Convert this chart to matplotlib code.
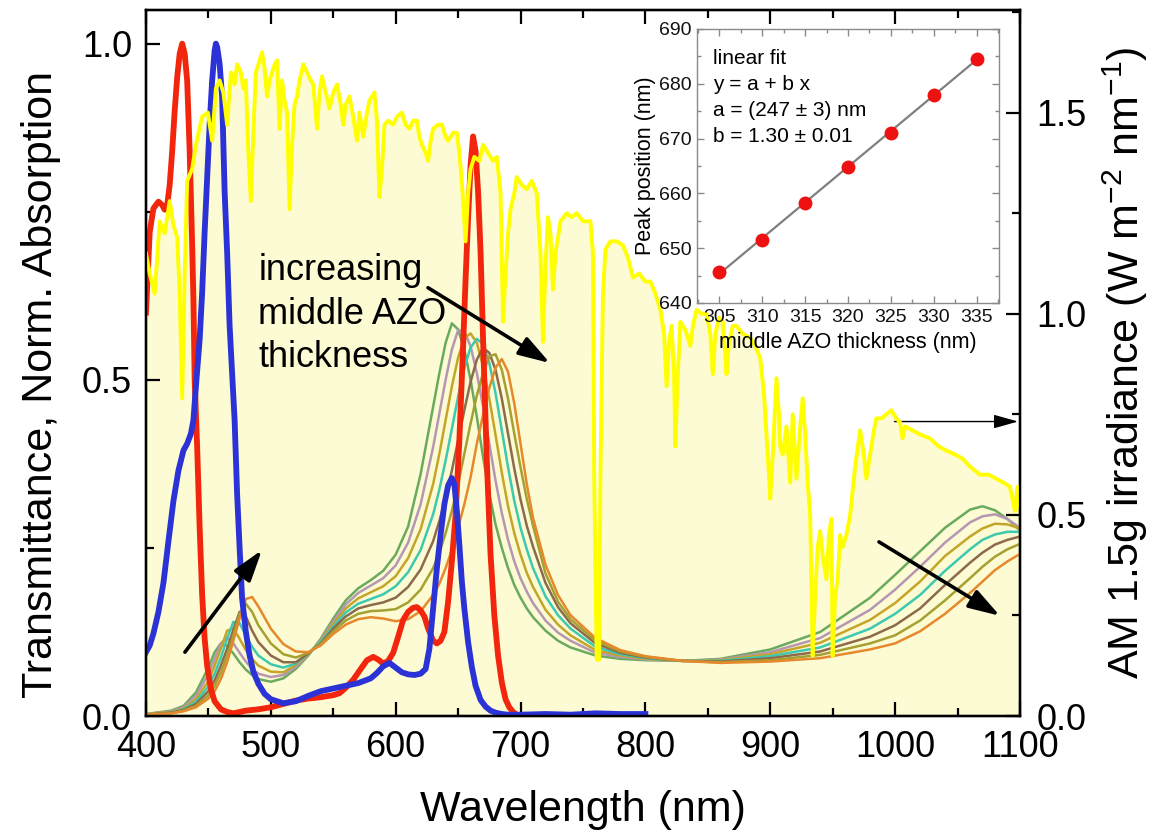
import numpy as np
import matplotlib
matplotlib.use("Agg")
import matplotlib.pyplot as plt
from matplotlib.ticker import MultipleLocator

plt.rcParams['font.family'] = ['Liberation Sans', 'DejaVu Sans']
plt.rcParams['mathtext.fontset'] = 'custom'
plt.rcParams['mathtext.rm'] = 'Liberation Sans'
plt.rcParams['mathtext.it'] = 'Liberation Sans:italic'
plt.rcParams['mathtext.bf'] = 'Liberation Sans:bold'

# ---------------- AM1.5G irradiance (right axis) ----------------
sun_wl = [400, 403, 407, 411, 415, 419, 422, 425, 427, 429, 431, 433, 437, 440, 445, 449.6, 453, 456,
          459, 462, 465, 468, 471, 473, 476, 478, 480, 482, 484, 486, 488, 491, 493, 495, 497, 499,
          501, 503, 505, 507, 509, 511, 513, 515, 517, 519, 521, 523, 526, 529, 532, 534, 537, 539,
          541, 544, 547, 550, 553, 556, 558, 560, 563, 566, 569, 571, 574, 577, 579, 583, 585, 587,
          589, 591, 594, 598, 601, 605, 608, 611, 614, 617, 619, 621, 624, 626, 628, 630, 634, 637,
          640, 642, 646, 649, 651, 653, 656, 658, 660, 663, 667, 670, 674, 678, 681, 684, 686, 688,
          690, 692, 695, 697, 701, 705, 709, 713, 716, 718, 720, 722, 724, 726, 728, 732, 737, 741,
          745, 750, 756, 758, 759, 761, 763, 764, 766, 768, 772, 777, 782, 786, 790, 795, 800, 804,
          808, 812, 815, 817, 819, 821, 823, 824, 826, 828, 832, 836, 838, 841, 845, 849, 852, 854,
          856, 859, 862, 864, 865, 867, 870, 873, 878, 884, 888, 892, 895, 897, 899, 900, 902, 905,
          907, 908, 910, 913, 916, 918, 921, 924, 926, 928, 930, 932, 934, 936, 938, 940, 942, 945,
          947, 949, 950, 952, 954, 956, 958, 961, 964, 968, 972, 975, 977, 980, 983, 985, 989, 993,
          997, 1001, 1004, 1006, 1008, 1014, 1020, 1028, 1035, 1041, 1048, 1054, 1060, 1068, 1075, 1081,
          1087, 1092, 1094, 1096, 1098, 1100]
sun_irr = [1.15, 1.10, 1.05, 1.23, 1.20, 1.28, 1.22, 1.19, 1.05, 0.79, 1.10, 1.33, 1.36, 1.42, 1.49, 1.50, 1.43, 1.56,
           1.58, 1.55, 1.47, 1.60, 1.57, 1.62, 1.60, 1.56, 1.58, 1.40, 1.28, 1.45, 1.60, 1.63, 1.65, 1.61, 1.54, 1.58,
           1.60, 1.62, 1.63, 1.46, 1.58, 1.53, 1.50, 1.26, 1.42, 1.52, 1.54, 1.58, 1.62, 1.60, 1.58, 1.57, 1.46, 1.55,
           1.59, 1.55, 1.51, 1.55, 1.57, 1.52, 1.47, 1.52, 1.54, 1.49, 1.43, 1.50, 1.44, 1.50, 1.53, 1.55, 1.48, 1.29,
           1.36, 1.47, 1.48, 1.47, 1.49, 1.50, 1.47, 1.46, 1.48, 1.48, 1.44, 1.42, 1.40, 1.38, 1.43, 1.46, 1.47, 1.47,
           1.44, 1.43, 1.45, 1.45, 1.40, 1.33, 1.18, 1.30, 1.36, 1.39, 1.38, 1.42, 1.40, 1.38, 1.39, 1.30, 0.98, 1.10,
           1.20, 1.26, 1.30, 1.34, 1.32, 1.31, 1.33, 1.30, 1.15, 0.93, 1.12, 1.24, 1.20, 1.06, 1.15, 1.23, 1.25, 1.24,
           1.25, 1.23, 1.23, 1.15, 0.60, 0.14, 0.14, 0.60, 1.05, 1.16, 1.18, 1.18, 1.17, 1.14, 1.09, 1.10, 1.08, 1.08,
           1.05, 1.01, 0.95, 0.82, 0.93, 0.97, 0.85, 0.67, 0.85, 0.98, 0.96, 0.92, 0.97, 1.01, 1.00, 1.00, 0.95, 0.85,
           0.95, 0.99, 0.98, 0.90, 0.85, 0.93, 0.97, 0.97, 0.95, 0.94, 0.92, 0.89, 0.80, 0.70, 0.60, 0.54, 0.65, 0.84,
           0.75, 0.67, 0.65, 0.72, 0.58, 0.75, 0.59, 0.72, 0.79, 0.70, 0.58, 0.50, 0.15, 0.30, 0.42, 0.46, 0.40, 0.34,
           0.45, 0.49, 0.15, 0.30, 0.34, 0.45, 0.42, 0.45, 0.50, 0.62, 0.71, 0.65, 0.59, 0.65, 0.71, 0.74, 0.74, 0.75,
           0.76, 0.74, 0.73, 0.69, 0.72, 0.71, 0.70, 0.69, 0.67, 0.66, 0.65, 0.64, 0.62, 0.60, 0.60, 0.59,
           0.58, 0.57, 0.54, 0.51, 0.57, 0.52]

# ---------------- red absorption ----------------
red_wl = [400, 403, 406, 410, 413, 415, 417, 419, 421, 423, 425, 427, 429, 431, 433, 435, 437, 438, 439, 441,
          443, 445, 447, 449, 452, 455, 460, 465, 470, 480, 490, 500, 510, 520, 530, 540, 550, 555, 560, 566,
          572, 577, 582, 586, 590, 594, 598, 602, 606, 610, 614, 617, 620, 623, 626, 630, 633, 636, 639, 642,
          645, 648, 651, 654, 656, 658, 660, 662, 664, 666, 668, 670, 673, 676, 679, 682, 685, 688, 691, 694,
          697, 700]
red_val = [0.60, 0.72, 0.755, 0.765, 0.76, 0.753, 0.76, 0.79, 0.84, 0.90, 0.95, 0.985, 1.0, 0.985, 0.945, 0.84, 0.70, 0.62, 0.50, 0.40,
           0.28, 0.18, 0.115, 0.075, 0.04, 0.022, 0.01, 0.006, 0.004, 0.008, 0.01, 0.013, 0.018, 0.023, 0.026, 0.028, 0.031, 0.034, 0.042, 0.054,
           0.07, 0.083, 0.088, 0.084, 0.078, 0.082, 0.094, 0.118, 0.143, 0.155, 0.161, 0.162, 0.157, 0.148, 0.13, 0.112, 0.108, 0.112, 0.125, 0.17,
           0.23, 0.30, 0.41, 0.55, 0.65, 0.74, 0.82, 0.862, 0.84, 0.78, 0.69, 0.56, 0.38, 0.24, 0.15, 0.09, 0.05, 0.025, 0.013, 0.006,
           0.002, 0.001]

# ---------------- blue absorption ----------------
blue_wl = [400, 403, 406, 410, 414, 418, 422, 426, 430, 433, 436, 438, 440, 443, 445, 447, 449, 451, 453, 455,
           456, 457, 459, 461, 463, 465, 467, 469, 471, 473, 475, 477, 480, 483, 486, 490, 495, 500, 510, 520,
           530, 540, 550, 560, 570, 580, 585, 590, 595, 600, 605, 610, 615, 620, 624, 627, 630, 633, 636, 639,
           642, 645, 647, 649, 651, 653, 655, 658, 661, 664, 668, 672, 676, 680, 685, 690, 700, 720, 740, 760,
           780, 800]
blue_val = [0.095, 0.105, 0.123, 0.155, 0.198, 0.26, 0.32, 0.365, 0.395, 0.405, 0.42, 0.44, 0.49, 0.56, 0.63, 0.72, 0.80, 0.88, 0.945, 0.99,
            1.0, 0.995, 0.97, 0.92, 0.78, 0.69, 0.58, 0.51, 0.44, 0.33, 0.25, 0.175, 0.125, 0.09, 0.066, 0.048, 0.033, 0.025, 0.019, 0.022,
            0.03, 0.037, 0.041, 0.045, 0.049, 0.056, 0.064, 0.074, 0.079, 0.072, 0.065, 0.062, 0.061, 0.063, 0.07, 0.10, 0.16, 0.22, 0.27, 0.315,
            0.343, 0.354, 0.345, 0.305, 0.255, 0.20, 0.16, 0.11, 0.073, 0.045, 0.024, 0.014, 0.008, 0.005, 0.003, 0.002, 0.002, 0.003, 0.002, 0.004,
            0.003, 0.003]

# ---------------- transmittance for middle AZO thickness 305...335 nm ----------------
t_wl = [400, 420, 430, 440, 450, 455, 460, 465, 470, 475, 480, 485, 490, 500, 510, 520, 530, 540, 550, 560,
        570, 580, 590, 600, 610, 620, 630, 635, 640, 645, 650, 655, 660, 665, 670, 675, 680, 685, 690, 695,
        700, 705, 710, 720, 730, 740, 760, 780, 800, 830, 860, 900, 940, 980, 1000, 1020, 1040, 1060, 1070, 1080,
        1090, 1100]
t_305 = [0.003, 0.008, 0.015, 0.035, 0.072, 0.095, 0.108, 0.104, 0.093, 0.080, 0.069, 0.061, 0.055, 0.051, 0.056, 0.070, 0.090, 0.115, 0.145, 0.172,
         0.190, 0.202, 0.216, 0.240, 0.282, 0.360, 0.460, 0.510, 0.555, 0.584, 0.575, 0.545, 0.500, 0.445, 0.385, 0.330, 0.285, 0.250, 0.220, 0.195,
         0.176, 0.160, 0.147, 0.127, 0.112, 0.102, 0.090, 0.085, 0.083, 0.082, 0.085, 0.099, 0.125, 0.176, 0.210, 0.245, 0.280, 0.307, 0.312, 0.306,
         0.293, 0.276]
t_310 = [0.003, 0.007, 0.013, 0.030, 0.062, 0.085, 0.108, 0.117, 0.108, 0.094, 0.081, 0.070, 0.063, 0.058, 0.061, 0.073, 0.091, 0.113, 0.141, 0.166,
         0.183, 0.194, 0.205, 0.224, 0.258, 0.315, 0.400, 0.450, 0.500, 0.545, 0.574, 0.572, 0.550, 0.510, 0.460, 0.405, 0.350, 0.302, 0.262, 0.230,
         0.205, 0.185, 0.168, 0.142, 0.124, 0.112, 0.094, 0.088, 0.084, 0.082, 0.084, 0.095, 0.116, 0.158, 0.188, 0.222, 0.258, 0.288, 0.297, 0.300,
         0.293, 0.280]
t_315 = [0.003, 0.006, 0.011, 0.025, 0.052, 0.075, 0.100, 0.127, 0.130, 0.115, 0.098, 0.085, 0.075, 0.066, 0.065, 0.076, 0.092, 0.111, 0.137, 0.160,
         0.175, 0.184, 0.193, 0.208, 0.235, 0.278, 0.345, 0.390, 0.440, 0.490, 0.533, 0.562, 0.569, 0.555, 0.520, 0.472, 0.418, 0.362, 0.312, 0.272,
         0.240, 0.213, 0.192, 0.158, 0.136, 0.120, 0.098, 0.090, 0.085, 0.082, 0.083, 0.092, 0.109, 0.143, 0.168, 0.200, 0.238, 0.267, 0.279, 0.286,
         0.285, 0.279]
t_320 = [0.002, 0.005, 0.010, 0.021, 0.044, 0.063, 0.087, 0.115, 0.140, 0.138, 0.120, 0.103, 0.090, 0.077, 0.072, 0.078, 0.093, 0.110, 0.133, 0.154,
         0.167, 0.174, 0.181, 0.193, 0.214, 0.247, 0.300, 0.337, 0.380, 0.427, 0.475, 0.518, 0.548, 0.561, 0.553, 0.525, 0.480, 0.425, 0.370, 0.320,
         0.280, 0.248, 0.220, 0.178, 0.150, 0.130, 0.103, 0.092, 0.086, 0.082, 0.082, 0.089, 0.102, 0.130, 0.152, 0.180, 0.216, 0.248, 0.262, 0.270,
         0.274, 0.274]
t_325 = [0.002, 0.005, 0.009, 0.018, 0.037, 0.053, 0.075, 0.100, 0.128, 0.155, 0.148, 0.127, 0.110, 0.090, 0.080, 0.080, 0.093, 0.108, 0.130, 0.148,
         0.160, 0.165, 0.169, 0.176, 0.192, 0.218, 0.260, 0.290, 0.325, 0.365, 0.410, 0.455, 0.497, 0.530, 0.548, 0.540, 0.515, 0.472, 0.420, 0.368,
         0.322, 0.283, 0.252, 0.198, 0.162, 0.138, 0.108, 0.094, 0.087, 0.082, 0.081, 0.086, 0.096, 0.118, 0.135, 0.160, 0.195, 0.228, 0.243, 0.255,
         0.262, 0.267]
t_330 = [0.002, 0.004, 0.008, 0.015, 0.031, 0.045, 0.065, 0.090, 0.120, 0.152, 0.167, 0.155, 0.135, 0.108, 0.092, 0.087, 0.094, 0.107, 0.126, 0.142,
         0.152, 0.156, 0.157, 0.159, 0.169, 0.188, 0.220, 0.243, 0.272, 0.305, 0.345, 0.390, 0.435, 0.477, 0.510, 0.535, 0.538, 0.515, 0.472, 0.420,
         0.370, 0.323, 0.283, 0.212, 0.170, 0.144, 0.112, 0.096, 0.088, 0.082, 0.080, 0.083, 0.091, 0.108, 0.120, 0.142, 0.172, 0.205, 0.222, 0.237,
         0.248, 0.256]
t_335 = [0.002, 0.004, 0.007, 0.013, 0.026, 0.037, 0.055, 0.080, 0.112, 0.145, 0.174, 0.177, 0.163, 0.130, 0.107, 0.096, 0.095, 0.105, 0.122, 0.136,
         0.144, 0.147, 0.145, 0.141, 0.144, 0.156, 0.180, 0.197, 0.220, 0.247, 0.280, 0.315, 0.355, 0.405, 0.448, 0.488, 0.518, 0.531, 0.512, 0.465,
         0.405, 0.345, 0.295, 0.225, 0.180, 0.150, 0.116, 0.098, 0.089, 0.082, 0.079, 0.081, 0.086, 0.099, 0.108, 0.126, 0.152, 0.183, 0.200, 0.217,
         0.230, 0.241]
t_series = [t_305, t_310, t_315, t_320, t_325, t_330, t_335]
t_colors = ['#6aaa5e', '#b596b3', '#c4a52a', '#3cc9b0', '#8c6a4c', '#a5a032', '#e5892c']

# ---------------- inset: peak position vs thickness ----------------
thick = [305, 310, 315, 320, 325, 330, 335]
peak_pos = [645.7, 651.5, 658.3, 664.8, 671.1, 677.9, 684.6]

# ---------------- figure ----------------
fig = plt.figure(figsize=(11.53, 8.36), dpi=100)
rect = [0.1266, 0.1435, 0.758, 0.8445]
ax = fig.add_axes(rect)
ax_fill = ax.twinx()
ax_line = ax.twinx()
ax_fill.set_zorder(0)
ax.set_zorder(1)
ax_line.set_zorder(2)
ax_fill.patch.set_visible(True)
ax_fill.patch.set_facecolor('white')
ax.patch.set_visible(False)
ax_line.patch.set_visible(False)

for a in (ax_fill, ax_line):
    a.set_ylim(0, 1.755)
ax.set_xlim(400, 1100)
ax.set_ylim(0, 1.05)

# fill under irradiance, line on top
ax_fill.fill_between(sun_wl, 0, sun_irr, color='#fdfbd3', lw=0)
ax_line.plot(sun_wl, sun_irr, color='#ffff00', lw=2.8, solid_joinstyle='round')

# transmittance curves
for vals, col in zip(t_series, t_colors):
    ax.plot(t_wl, vals, color=col, lw=1.8)
ax.plot(red_wl, red_val, color='#f2260c', lw=4.2, solid_joinstyle='round')
ax.plot(blue_wl, blue_val, color='#2b32d6', lw=4.2, solid_joinstyle='round')

# axes styling
for a in (ax, ax_fill, ax_line):
    for s in a.spines.values():
        s.set_linewidth(1.6)
        s.set_color('black')
ax_fill.tick_params(left=False, right=False, top=False, bottom=False,
                    labelleft=False, labelright=False, labelbottom=False)
ax_fill.set_yticks([])

ax.xaxis.set_major_locator(MultipleLocator(100))
ax.xaxis.set_minor_locator(MultipleLocator(50))
ax.yaxis.set_major_locator(MultipleLocator(0.5))
ax.yaxis.set_minor_locator(MultipleLocator(0.25))
ax.tick_params(which='both', direction='in', top=True, right=False, width=1.6, colors='black')
ax.tick_params(which='major', length=10, labelsize=26, pad=10)
ax.tick_params(which='minor', length=6)
ax.set_xticks([400, 500, 600, 700, 800, 900, 1000, 1100])
ax.set_xticklabels(['400', '500', '600', '700', '800', '900', '1000', '1100'])
ax.set_yticks([0.0, 0.5, 1.0])
ax.set_yticklabels(['0.0', '0.5', '1.0'])

ax_line.yaxis.set_major_locator(MultipleLocator(0.5))
ax_line.yaxis.set_minor_locator(MultipleLocator(0.25))
ax_line.tick_params(which='both', direction='in', right=True, left=False, width=1.6)
ax_line.tick_params(which='major', length=10, labelsize=26, pad=12)
ax_line.tick_params(which='minor', length=6)
ax_line.set_yticks([0.0, 0.5, 1.0, 1.5])
ax_line.set_yticklabels(['0.0', '0.5', '1.0', '1.5'])

ax.set_xlabel('Wavelength (nm)', fontsize=31, labelpad=18)
ax.set_ylabel('Transmittance, Norm. Absorption', fontsize=31)
ax.yaxis.set_label_coords(-0.097, 0.47)
ax_line.set_ylabel('AM 1.5g irradiance (W m$^{-2}$ nm$^{-1}$)', fontsize=31, labelpad=10)

# annotations
ax.text(490, 0.688, 'increasing\nmiddle AZO\nthickness', fontsize=26, va='top', ha='left',
        linespacing=1.3, color='black')
thick_arrow = dict(arrowstyle='-|>,head_length=0.95,head_width=0.3', lw=2.6, color='black',
                   shrinkA=0, shrinkB=0, mutation_scale=20)
ax.annotate('', xy=(723.6, 0.525), xytext=(625.9, 0.637), arrowprops=thick_arrow)
ax.annotate('', xy=(492.9, 0.247), xytext=(431.2, 0.095), arrowprops=thick_arrow)
ax.annotate('', xy=(1084, 0.149), xytext=(987.1, 0.259), arrowprops=thick_arrow)
ax.annotate('', xy=(1098.5, 0.438), xytext=(999.5, 0.438),
            arrowprops=dict(arrowstyle='-|>,head_length=1.0,head_width=0.28', lw=1.0, color='black',
                            shrinkA=0, shrinkB=0, mutation_scale=15))

# ---------------- inset ----------------
ins = fig.add_axes([0.6045, 0.6376, 0.2619, 0.3278])
ins.set_zorder(5)
ins.set_facecolor('white')
fit = np.polyfit(thick, peak_pos, 1)
fx = np.array([thick[0], thick[-1]])
ins.plot(fx, np.polyval(fit, fx), color='#7f7f7f', lw=1.6, zorder=2)
ins.plot(thick, peak_pos, 'o', color='#ee1111', ms=9, mec='#ee1111', zorder=3)
ins.set_xlim(302.4, 337.6)
ins.set_ylim(640, 690)
ins.xaxis.set_major_locator(MultipleLocator(5))
ins.xaxis.set_minor_locator(MultipleLocator(2.5))
ins.yaxis.set_major_locator(MultipleLocator(10))
ins.yaxis.set_minor_locator(MultipleLocator(5))
for s in ins.spines.values():
    s.set_color('#8a8a8a')
    s.set_linewidth(1.0)
ins.tick_params(which='both', direction='in', top=True, right=True, color='#8a8a8a', width=1.0)
ins.tick_params(which='major', length=5, labelsize=14, pad=4, labelcolor='#111111')
ins.tick_params(which='minor', length=3)
ins.set_xlabel('middle AZO thickness (nm)', fontsize=15.5, labelpad=5)
ins.set_ylabel('Peak position (nm)', fontsize=15.5, labelpad=2)
ins.text(0.053, 0.925, 'linear fit\ny = a + b x\na = (247 \u00b1 3) nm\nb = 1.30 \u00b1 0.01',
         transform=ins.transAxes, fontsize=15, va='top', ha='left', linespacing=1.45)

fig.savefig('out.png', dpi=100)
